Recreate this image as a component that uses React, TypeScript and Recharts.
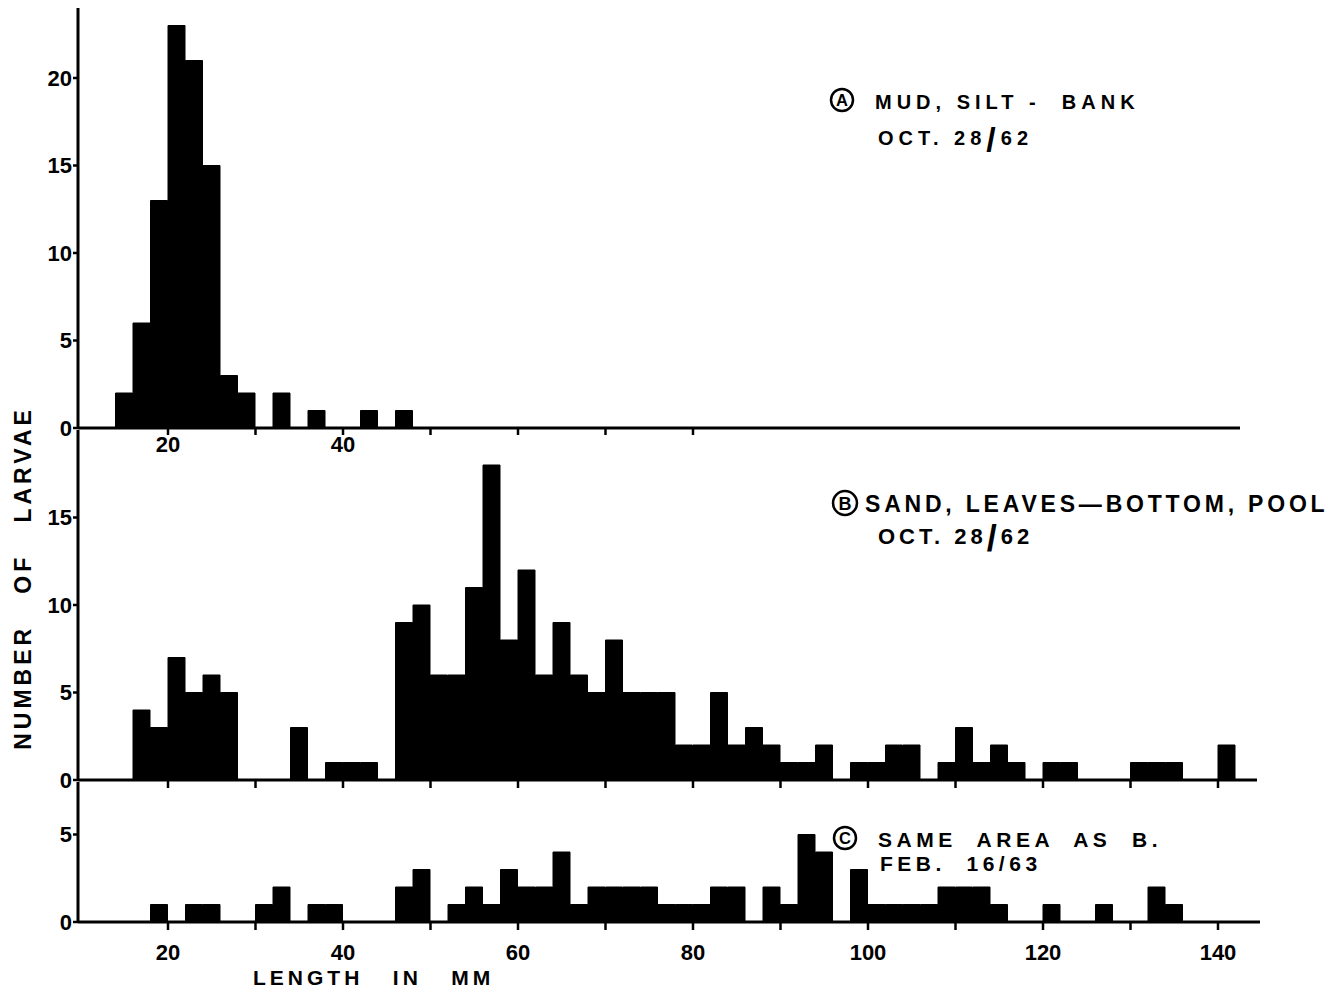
import { BarChart, Bar, XAxis, YAxis } from 'recharts'

// 2 mm length classes, lower bound of each class
const binStart = [
  10, 12, 14, 16, 18, 20, 22, 24, 26, 28,
  30, 32, 34, 36, 38, 40, 42, 44, 46, 48,
  50, 52, 54, 56, 58, 60, 62, 64, 66, 68,
  70, 72, 74, 76, 78, 80, 82, 84, 86, 88,
  90, 92, 94, 96, 98, 100, 102, 104, 106, 108,
  110, 112, 114, 116, 118, 120, 122, 124, 126, 128,
  130, 132, 134, 136, 138, 140, 142,
]

// (A) mud, silt - bank, Oct. 28/62
const mudSiltBank = [
  0, 0, 2, 6, 13, 23, 21, 15, 3, 2,
  0, 2, 0, 1, 0, 0, 1, 0, 1, 0,
  0, 0, 0, 0, 0, 0, 0, 0, 0, 0,
  0, 0, 0, 0, 0, 0, 0, 0, 0, 0,
  0, 0, 0, 0, 0, 0, 0, 0, 0, 0,
  0, 0, 0, 0, 0, 0, 0, 0, 0, 0,
  0, 0, 0, 0, 0, 0, 0,
]

// (B) sand, leaves - bottom, pool, Oct. 28/62
const sandLeavesPool = [
  0, 0, 0, 4, 3, 7, 5, 6, 5, 0,
  0, 0, 3, 0, 1, 1, 1, 0, 9, 10,
  6, 6, 11, 18, 8, 12, 6, 9, 6, 5,
  8, 5, 5, 5, 2, 2, 5, 2, 3, 2,
  1, 1, 2, 0, 1, 1, 2, 2, 0, 1,
  3, 1, 2, 1, 0, 1, 1, 0, 0, 0,
  1, 1, 1, 0, 0, 2, 0,
]

// (C) same area as B, Feb. 16/63
const sameAreaFeb = [
  0, 0, 0, 0, 1, 0, 1, 1, 0, 0,
  1, 2, 0, 1, 1, 0, 0, 0, 2, 3,
  0, 1, 2, 1, 3, 2, 2, 4, 1, 2,
  2, 2, 2, 1, 1, 1, 2, 2, 0, 2,
  1, 5, 4, 0, 3, 1, 1, 1, 1, 2,
  2, 2, 1, 0, 0, 1, 0, 0, 1, 0,
  0, 2, 1, 0, 0, 0, 0,
]

const xTicksA = [20, 30, 40, 50, 60, 70, 80]
const xTicksFull = [20, 30, 40, 50, 60, 70, 80, 90, 100, 110, 120, 130, 140]
const xLabelsA = [20, 40]
const xLabelsC = [20, 40, 60, 80, 100, 120, 140]
const yTicksA = [0, 5, 10, 15, 20]
const yTicksB = [0, 5, 10, 15]
const yTicksC = [0, 5]

const FONT = '"Liberation Sans", Arial, sans-serif'
const X_LEFT = 78
const PX_PER_MM = 8.75
const X_MIN = 20 - (168 - X_LEFT) / PX_PER_MM

const tickStyle = { fill: '#000', fontSize: 22, fontWeight: 700, fontFamily: FONT }
const axisLine = { stroke: '#000', strokeWidth: 3 }
const tickLine = { stroke: '#000', strokeWidth: 2.5 }

type HistProps = {
  counts: number[]
  plotTop: number
  plotHeight: number
  right: number
  yMax: number
  yTicks: number[]
  xTicks: number[]
  xLabels: number[]
  xTickSize: number
  xTickMargin: number
}

function Histogram({ counts, plotTop, plotHeight, right, yMax, yTicks, xTicks, xLabels, xTickSize, xTickMargin }: HistProps) {
  const data = binStart.map((s, i) => ({ mid: s + 1, n: counts[i] }))
  const xMax = X_MIN + (right - X_LEFT) / PX_PER_MM
  const xAxisHeight = 50
  return (
    <div style={{ position: 'absolute', left: 0, top: 0 }}>
      <BarChart
        width={right + 2}
        height={plotTop + plotHeight + xAxisHeight}
        data={data}
        margin={{ top: plotTop, right: 2, bottom: 0, left: 8 }}
        barCategoryGap={0}
        barGap={0}
      >
        <XAxis
          dataKey="mid"
          type="number"
          domain={[X_MIN, xMax]}
          allowDataOverflow
          ticks={xTicks}
          interval={0}
          height={xAxisHeight}
          tickFormatter={(v) => (xLabels.includes(v) ? String(v) : '')}
          tick={tickStyle}
          axisLine={axisLine}
          tickLine={tickLine}
          tickSize={xTickSize}
          tickMargin={xTickMargin}
        />
        <YAxis
          type="number"
          domain={[0, yMax]}
          allowDataOverflow
          ticks={yTicks}
          interval={0}
          width={70}
          tick={tickStyle}
          axisLine={axisLine}
          tickLine={tickLine}
          tickSize={5}
          tickMargin={1}
        />
        {/* thin black stroke closes the hairline seams between touching bars */}
        <Bar dataKey="n" fill="#000" stroke="#000" strokeWidth={1} isAnimationActive={false} />
      </BarChart>
    </div>
  )
}

function Circled({ cx, cy, r, letter }: { cx: number; cy: number; r: number; letter: string }) {
  return (
    <g>
      <circle cx={cx} cy={cy} r={r} fill="none" stroke="#000" strokeWidth={2.5} />
      <text x={cx} y={cy + r * 0.55} textAnchor="middle" fontSize={r * 1.5} fontWeight={700} fontFamily={FONT}>
        {letter}
      </text>
    </g>
  )
}

export default function App() {
  return (
    <div style={{ position: 'absolute', left: 0, top: 0, width: 1337, height: 988, background: '#fff' }}>
      <Histogram counts={mudSiltBank} plotTop={8} plotHeight={420} right={1240} yMax={24}
        yTicks={yTicksA} xTicks={xTicksA} xLabels={xLabelsA} xTickSize={7} xTickMargin={1} />
      <Histogram counts={sandLeavesPool} plotTop={430} plotHeight={350} right={1257} yMax={20}
        yTicks={yTicksB} xTicks={xTicksFull} xLabels={[]} xTickSize={8} xTickMargin={2} />
      <Histogram counts={sameAreaFeb} plotTop={782} plotHeight={140} right={1260} yMax={8}
        yTicks={yTicksC} xTicks={xTicksFull} xLabels={xLabelsC} xTickSize={8} xTickMargin={14} />

      <svg width={1337} height={988} style={{ position: 'absolute', left: 0, top: 0, pointerEvents: 'none' }}
        fontFamily={FONT} fontWeight={700} fill="#000">
        <text transform="translate(31, 578) rotate(-90)" textAnchor="middle" fontSize={23} letterSpacing={4} xmlSpace="preserve">
          NUMBER   OF   LARVAE
        </text>
        <text x={253} y={985} fontSize={21} letterSpacing={4} xmlSpace="preserve">LENGTH   IN   MM</text>

        <Circled cx={842} cy={100} r={11} letter="A" />
        <text x={875} y={109} fontSize={20} letterSpacing={5} xmlSpace="preserve">MUD, SILT -  BANK</text>
        <text x={878} y={145} fontSize={20} letterSpacing={5} xmlSpace="preserve">
          OCT. 28<tspan fontSize={34} dy={6}>/</tspan><tspan dy={-6}>62</tspan>
        </text>

        <Circled cx={845} cy={503} r={12} letter="B" />
        <text x={865} y={512} fontSize={23} letterSpacing={3.8} xmlSpace="preserve">SAND, LEAVES—BOTTOM, POOL</text>
        <text x={878} y={544} fontSize={22} letterSpacing={4} xmlSpace="preserve">
          OCT. 28<tspan fontSize={36} dy={7}>/</tspan><tspan dy={-7}>62</tspan>
        </text>

        <Circled cx={845} cy={838} r={11} letter="C" />
        <text x={878} y={847} fontSize={21} letterSpacing={4.5} xmlSpace="preserve">SAME  AREA  AS  B.</text>
        <text x={880} y={871} fontSize={21} letterSpacing={4.5} xmlSpace="preserve">FEB.  16/63</text>
      </svg>
    </div>
  )
}
